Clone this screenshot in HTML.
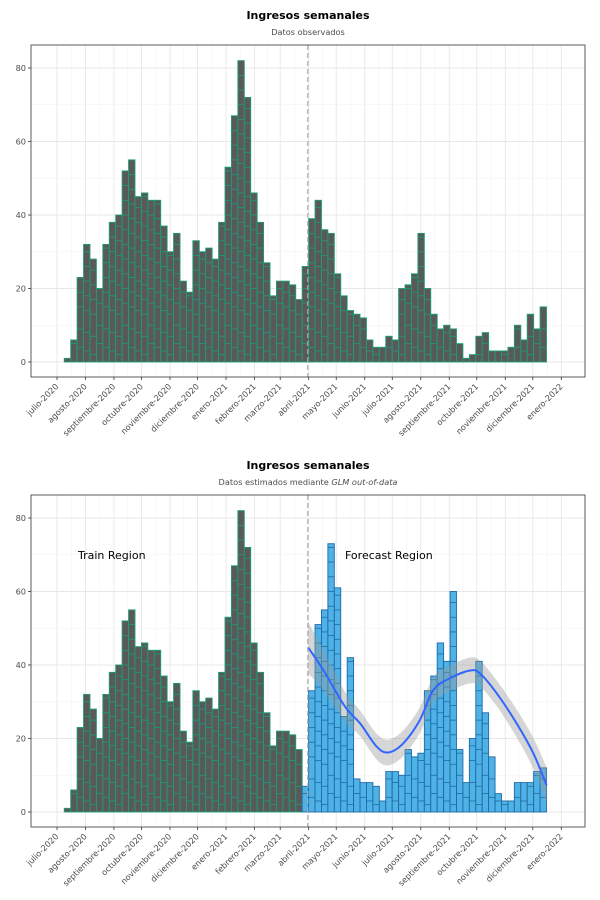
<!DOCTYPE html>
<html><head><meta charset="utf-8"><style>
body{margin:0;background:#fff;}
svg{display:block;font-family:"DejaVu Sans","Liberation Sans",sans-serif;}
</style></head><body>
<svg id="c" width="600" height="900" xmlns="http://www.w3.org/2000/svg"></svg>
<script>
const monthLabels=["julio-2020","agosto-2020","septiembre-2020","octubre-2020","noviembre-2020","diciembre-2020","enero-2021","febrero-2021","marzo-2021","abril-2021","mayo-2021","junio-2021","julio-2021","agosto-2021","septiembre-2021","octubre-2021","noviembre-2021","diciembre-2021","enero-2022"];
const yTicks=[0,20,40,60,80];
const observed=[1,6,23,32,28,20,32,38,40,52,55,45,46,44,44,37,30,35,22,19,33,30,31,28,38,53,67,82,72,46,38,27,18,22,22,21,17,26,39,44,36,35,24,18,14,13,12,6,4,4,7,6,20,21,24,35,20,13,9,10,9,5,1,2,7,8,3,3,3,4,10,6,13,9,15];
const trainCount=37;
const forecast=[7,33,51,55,73,61,26,42,9,8,8,7,3,11,11,10,17,15,16,33,37,46,41,60,17,8,20,41,27,15,5,3,3,8,8,8,11,12];
const fitDays=[273.6,290,313.5,330,348,360.7,377,395,409.7,427.8,449.6,460.5,478.7,500.4,518.5,533];
const fitValues=[44.7,38.6,28.7,24.1,17.8,16.2,18.7,25,33.2,36.4,38.5,37.7,32.3,24.1,16,7.3];
const fitSe=[7,5.5,4,3.5,3.5,3.5,3.5,3.5,3.5,3.5,3.5,3.5,3.5,3.8,4.2,4.8];
const firstBarDay=7.9, splitDay=273;

const svg=document.getElementById('c');
const NS='http://www.w3.org/2000/svg';
function mk(tag,attrs,parent){const e=document.createElementNS(NS,tag);for(const k in attrs)e.setAttribute(k,attrs[k]);(parent||svg).appendChild(e);return e;}
const PX_DAY=6.43/7, X0=57, L=31, R=585;
const xDay=d=>X0+d*PX_DAY;
function monthDay(i){const a=new Date(Date.UTC(2020,6,1));const b=new Date(Date.UTC(2020,6+i,1));return (b-a)/86400000;}

function panel(top,bottom,title,subtitle,isFc){
  const y0=bottom-15, unit=3.675;
  const y=v=>y0-v*unit;
  const g=mk('g',{});
  
  
  const t=mk('text',{x:308,y:top-26,'text-anchor':'middle','font-size':11,'font-weight':'bold',fill:'#000'},g);t.textContent=title;
  
  const st=mk('text',{x:308,y:top-10,'text-anchor':'middle','font-size':8.2,fill:'#4d4d4d'},g);
  
  if(isFc){st.innerHTML='Datos estimados mediante <tspan font-style="italic">GLM out-of-data</tspan>';}else st.textContent=subtitle;
  for(let v=10;v<=90;v+=20){if(y(v)>top)mk('line',{x1:L,x2:R,y1:y(v),y2:y(v),stroke:'#f2f2f2','stroke-width':0.6},g);}
  for(let i=0;i<monthLabels.length;i++){
    const d=monthDay(i), x=xDay(d);
    if(i<monthLabels.length-1){const xm=xDay((d+monthDay(i+1))/2);mk('line',{x1:xm,x2:xm,y1:top,y2:bottom,stroke:'#f2f2f2','stroke-width':0.6},g);}
    mk('line',{x1:x,x2:x,y1:top,y2:bottom,stroke:'#e8e8e8','stroke-width':0.9},g);
    mk('line',{x1:x,x2:x,y1:bottom,y2:bottom+3,stroke:'#333','stroke-width':0.8},g);
    const lb=mk('text',{x:x+2,y:bottom+10,'text-anchor':'end','font-size':8.2,fill:'#4d4d4d',transform:`rotate(-45 ${x+2} ${bottom+10})`},g);
    lb.textContent=monthLabels[i];
    
  }
  yTicks.forEach(v=>{
    mk('line',{x1:L,x2:R,y1:y(v),y2:y(v),stroke:'#e8e8e8','stroke-width':0.9},g);
    mk('line',{x1:L-3,x2:L,y1:y(v),y2:y(v),stroke:'#333','stroke-width':0.8},g);
    const tl=mk('text',{x:L-5,y:y(v)+3,'text-anchor':'end','font-size':8.2,fill:'#4d4d4d'},g);tl.textContent=v;
    
  });
  const bw=6.43;
  function bar(i,v,fill,stroke,name){
    const x=xDay(firstBarDay+i*7);
    const r=mk('rect',{x:x,y:y(v),width:bw,height:v*unit,fill:fill,stroke:stroke,'stroke-width':0.9},g);
    
    for(let s=((i*3)%4)+2;s<v;s+=3+((i+s)%4)){mk('line',{x1:x,x2:x+bw,y1:y(s),y2:y(s),stroke:stroke,'stroke-width':0.8},g);}
  }
  if(!isFc){observed.forEach((v,i)=>bar(i,v,'#595959','#1b9e77','observed-bar'));}
  else{
    observed.slice(0,trainCount).forEach((v,i)=>bar(i,v,'#595959','#1b9e77','train-bar'));
    forecast.forEach((v,i)=>bar(trainCount+i,v,'#4fb2e6','#1f6aa5','forecast-bar'));
    const pts=fitDays.map((d,i)=>[xDay(d),y(fitValues[i])]);
    const up=fitDays.map((d,i)=>[xDay(d),y(fitValues[i]+fitSe[i])]);
    const lo=fitDays.map((d,i)=>[xDay(d),y(fitValues[i]-fitSe[i])]);
    function spline(p){let s='';for(let i=0;i<p.length-1;i++){const p0=p[Math.max(i-1,0)],p1=p[i],p2=p[i+1],p3=p[Math.min(i+2,p.length-1)];
      const c1=[p1[0]+(p2[0]-p0[0])/6,p1[1]+(p2[1]-p0[1])/6],c2=[p2[0]-(p3[0]-p1[0])/6,p2[1]-(p3[1]-p1[1])/6];
      s+=` C${c1[0]},${c1[1]} ${c2[0]},${c2[1]} ${p2[0]},${p2[1]}`;}return s;}
    const lr=lo.slice().reverse();
    const rib=mk('path',{d:`M${up[0][0]},${up[0][1]}`+spline(up)+` L${lr[0][0]},${lr[0][1]}`+spline(lr)+'Z',fill:'#999','fill-opacity':0.4,stroke:'none'},g);
    
    const ln=mk('path',{d:`M${pts[0][0]},${pts[0][1]}`+spline(pts),fill:'none',stroke:'#3366ff','stroke-width':2},g);
    
    const a=mk('text',{x:78,y:559,'font-size':11,fill:'#000'},g);a.textContent='Train Region';
    
    const b=mk('text',{x:345,y:559,'font-size':11,fill:'#000'},g);b.textContent='Forecast Region';
    
  }
  const dl=mk('line',{x1:xDay(splitDay),x2:xDay(splitDay),y1:top,y2:bottom,stroke:'#aaa','stroke-width':1.2,'stroke-dasharray':'5,3'},g);
  
  mk('rect',{x:L,y:top,width:R-L,height:bottom-top,fill:'none',stroke:'#333','stroke-width':0.8},g);
}
panel(45,377,'Ingresos semanales','Datos observados',false);
panel(495,827,'Ingresos semanales','',true);
</script>
</body></html>
